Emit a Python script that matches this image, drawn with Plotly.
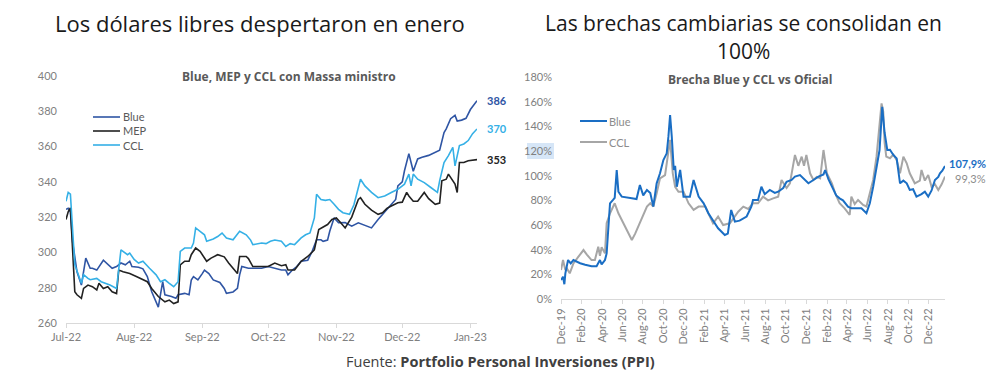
import plotly.graph_objects as go

# ---------------- Left chart data: Blue, MEP y CCL ----------------
blue_dates = ["2022-07-01","2022-07-02","2022-07-03","2022-07-04","2022-07-06","2022-07-08","2022-07-10","2022-07-12","2022-07-13","2022-07-15",
              "2022-07-18","2022-07-20","2022-07-22","2022-07-24","2022-07-26","2022-07-28","2022-07-30","2022-07-31","2022-08-03","2022-08-05",
              "2022-08-07","2022-08-09","2022-08-12","2022-08-14","2022-08-15","2022-08-18","2022-08-20","2022-08-21","2022-08-24","2022-08-26",
              "2022-08-27","2022-08-28","2022-08-30","2022-09-01","2022-09-02","2022-09-04","2022-09-06","2022-09-09","2022-09-11","2022-09-12",
              "2022-09-15","2022-09-17","2022-09-18","2022-09-19","2022-09-22","2022-09-25","2022-09-28","2022-10-01","2022-10-04","2022-10-07",
              "2022-10-09","2022-10-10","2022-10-12","2022-10-14","2022-10-16","2022-10-19","2022-10-21","2022-10-23","2022-10-25","2022-10-26",
              "2022-10-28","2022-10-29","2022-10-31","2022-11-02","2022-11-05","2022-11-08","2022-11-11","2022-11-14","2022-11-17","2022-11-20",
              "2022-11-22","2022-11-24","2022-11-26","2022-11-28","2022-11-29","2022-12-01","2022-12-02","2022-12-04","2022-12-05","2022-12-06",
              "2022-12-08","2022-12-10","2022-12-13","2022-12-16","2022-12-18","2022-12-20","2022-12-21","2022-12-23","2022-12-25","2022-12-26",
              "2022-12-28","2022-12-30","2023-01-01","2023-01-04"]
blue_vals = [324.4,325,323,306,289,281.5,296.8,291,291,290,
             295.6,293,291,292,294,293,295,292,291.6,290.7,
             286.3,277.7,269,283.4,276,275,274,276,276.8,276,
             284.4,286.3,284.4,288,290,288,284.4,283,279.6,276.8,
             277.6,279.6,287.3,292,291,291,291,292,291,290,
             290,287.3,290,292,295,295.6,300.6,307.2,307.2,306.3,
             307,312,319.6,316.8,317,314.9,316.8,315.5,313.9,318.7,
             321.6,324.4,327.3,330,337.7,340,346.3,356,351,346,
             353,354,355,356.8,358,368,370,375.8,377.7,374.5,
             375,376,381,386]

mep_dates = ["2022-07-01","2022-07-02","2022-07-03","2022-07-04","2022-07-05","2022-07-06","2022-07-08","2022-07-09","2022-07-11","2022-07-13",
             "2022-07-15","2022-07-16","2022-07-18","2022-07-20","2022-07-22","2022-07-24","2022-07-25","2022-07-27","2022-07-30","2022-08-02",
             "2022-08-05","2022-08-07","2022-08-09","2022-08-12","2022-08-15","2022-08-17","2022-08-19","2022-08-21","2022-08-22","2022-08-24",
             "2022-08-26","2022-08-27","2022-08-29","2022-08-31","2022-09-03","2022-09-05","2022-09-08","2022-09-11","2022-09-13","2022-09-15",
             "2022-09-17","2022-09-18","2022-09-21","2022-09-22","2022-09-24","2022-09-27","2022-10-01","2022-10-04","2022-10-07","2022-10-09",
             "2022-10-10","2022-10-13","2022-10-16","2022-10-19","2022-10-22","2022-10-24","2022-10-28","2022-10-30","2022-11-01","2022-11-03",
             "2022-11-05","2022-11-08","2022-11-11","2022-11-12","2022-11-14","2022-11-17","2022-11-20","2022-11-22","2022-11-24","2022-11-26",
             "2022-11-29","2022-12-01","2022-12-03","2022-12-04","2022-12-06","2022-12-08","2022-12-11","2022-12-13","2022-12-16","2022-12-18",
             "2022-12-19","2022-12-21","2022-12-22","2022-12-25","2022-12-26","2022-12-27","2022-12-29","2022-12-31","2023-01-04"]
mep_vals = [318.7,323,325.3,302.5,277.7,276,274,279.6,281.5,280.6,
            278.7,282.5,279.6,280.6,277.7,276.7,290,289,288,286.3,
            284.4,283.4,279.6,275,272,273,271,272,293,295,
            295,298.7,302.5,300.6,295,296.8,298.7,297.5,294,291,
            288,297.7,297.7,296.5,292,292,292,294,292.5,293,
            290,290,295,297.7,301.5,313,315.8,318.7,319.6,316.8,
            313.9,320,330,331,327.3,324,321.6,322.5,325,326.3,
            328.2,328.5,334,332,329,329,334,330.5,327.3,328,
            340.6,341.5,344.4,338.7,334,351,351,352,352.6]

ccl_dates = ["2022-07-01","2022-07-02","2022-07-03","2022-07-04","2022-07-05","2022-07-08","2022-07-09","2022-07-11","2022-07-12","2022-07-15",
             "2022-07-17","2022-07-21","2022-07-24","2022-07-26","2022-07-27","2022-07-29","2022-07-30","2022-08-01","2022-08-03","2022-08-05",
             "2022-08-08","2022-08-11","2022-08-13","2022-08-15","2022-08-17","2022-08-19","2022-08-21","2022-08-22","2022-08-24","2022-08-27",
             "2022-08-28","2022-08-29","2022-08-31","2022-09-02","2022-09-03","2022-09-06","2022-09-08","2022-09-10","2022-09-12","2022-09-15",
             "2022-09-18","2022-09-21","2022-09-23","2022-09-24","2022-09-28","2022-09-30","2022-10-02","2022-10-04","2022-10-07","2022-10-09",
             "2022-10-11","2022-10-13","2022-10-16","2022-10-18","2022-10-20","2022-10-22","2022-10-23","2022-10-25","2022-10-27","2022-10-29",
             "2022-10-31","2022-11-02","2022-11-04","2022-11-07","2022-11-09","2022-11-12","2022-11-14","2022-11-17","2022-11-20","2022-11-23",
             "2022-11-26","2022-11-29","2022-12-02","2022-12-04","2022-12-05","2022-12-06","2022-12-08","2022-12-11","2022-12-14","2022-12-17",
             "2022-12-18","2022-12-20","2022-12-22","2022-12-24","2022-12-25","2022-12-27","2022-12-29","2022-12-31","2023-01-02","2023-01-04"]
ccl_vals = [329,334,333,312,293,282.5,287.4,285.3,284.5,285.3,
            283.4,281.5,279.6,301.5,300.6,298.7,299.6,296,294,295,
            291,287.3,283.4,284.5,282.5,280.6,283.4,300.6,302.5,302.5,
            305.3,313.9,312,310,306.3,307.6,309,311,308.2,307.2,
            312,310,307,304.4,305.3,305,306.3,307,306.3,303.4,
            305,304.4,308.2,310,311,319.6,333,330,329.5,330,
            327.3,324.4,322.5,321.6,327,341.5,337.7,334,331,332,
            334,335.8,338.7,344.4,337.7,344.4,341.5,339.6,336.8,334,
            340.6,351,354.9,359.6,349.1,360.6,361.5,363.4,367.3,370]

# ---------------- Right chart data: Brecha Blue y CCL vs Oficial (%) ----------------
gap_blue_dates = ["2019-12-01","2019-12-07","2019-12-11","2019-12-14","2019-12-22","2019-12-30","2020-01-07","2020-01-27","2020-02-11","2020-03-01",
                  "2020-03-16","2020-03-26","2020-03-31","2020-04-10","2020-04-15","2020-04-20","2020-04-25","2020-05-04","2020-05-09","2020-05-15",
                  "2020-05-20","2020-05-30","2020-06-14","2020-06-29","2020-07-13","2020-07-23","2020-08-02","2020-08-13","2020-08-23","2020-09-01",
                  "2020-09-11","2020-09-21","2020-10-01","2020-10-11","2020-10-16","2020-10-21","2020-10-26","2020-11-01","2020-11-05","2020-11-10",
                  "2020-11-20","2020-11-30","2020-12-19","2020-12-30","2021-01-14","2021-01-29","2021-02-12","2021-02-26","2021-03-13","2021-04-02",
                  "2021-04-11","2021-04-21","2021-05-02","2021-05-16","2021-06-06","2021-06-20","2021-06-25","2021-07-10","2021-07-20","2021-07-30",
                  "2021-08-14","2021-08-29","2021-09-08","2021-09-23","2021-10-03","2021-10-18","2021-10-28","2021-11-12","2021-11-22","2021-12-07",
                  "2021-12-22","2022-01-06","2022-01-21","2022-01-26","2022-02-05","2022-02-19","2022-02-28","2022-03-10","2022-03-20","2022-04-04",
                  "2022-04-14","2022-04-29","2022-05-14","2022-05-29","2022-06-08","2022-06-18","2022-06-28","2022-07-07","2022-07-15","2022-07-22",
                  "2022-07-30","2022-08-07","2022-08-17","2022-08-27","2022-09-06","2022-09-16","2022-09-26","2022-10-05","2022-10-15","2022-10-25",
                  "2022-11-09","2022-11-19","2022-11-29","2022-12-09","2022-12-19","2022-12-29","2023-01-03","2023-01-10","2023-01-18"]
gap_blue_vals = [15.4,18,12,20.8,31.6,28.9,31.6,29,27.8,26.5,
                 26.5,31.6,28,31.6,37,61.3,77.6,80.3,82,104.6,
                 87,83,82,81.6,81,92.4,84,88.4,86,74.9,
                 93.8,101.9,112.7,118.1,131.6,149.2,131.6,104.6,108,91,
                 104.6,83,83,96.5,83,77.6,69.5,64,57.3,51.9,
                 53,72.2,62.7,63.5,66.9,74.9,80.3,80.3,91,85,
                 88.4,86,87,90,95.1,96.5,99.2,100.5,98,93.8,
                 96.5,99.2,101,104.6,97,88.4,84,81.6,80,74.9,
                 73.5,73.5,73.5,69.5,77.6,91,107.3,120.8,155.9,135,
                 120.8,121,116.8,114,93.8,96,93.8,88.4,89,83,
                 85,87,83,88,96.5,99,101.9,104,107.9]

gap_ccl_dates = ["2019-12-01","2019-12-07","2019-12-14","2019-12-18","2019-12-27","2020-01-07","2020-01-22","2020-02-06","2020-02-16","2020-03-01",
                 "2020-03-11","2020-03-21","2020-03-26","2020-03-31","2020-04-10","2020-04-15","2020-04-25","2020-05-04","2020-05-09","2020-05-20",
                 "2020-05-30","2020-06-14","2020-06-29","2020-07-09","2020-07-23","2020-08-02","2020-08-13","2020-08-23","2020-09-01","2020-09-11",
                 "2020-09-21","2020-10-06","2020-10-16","2020-10-21","2020-10-29","2020-11-05","2020-11-15","2020-11-30","2020-12-15","2020-12-30",
                 "2021-01-14","2021-02-03","2021-02-12","2021-02-26","2021-03-13","2021-03-28","2021-04-17","2021-04-27","2021-05-12","2021-05-27",
                 "2021-06-11","2021-06-25","2021-07-10","2021-07-25","2021-08-09","2021-08-24","2021-09-08","2021-09-18","2021-10-03","2021-10-13",
                 "2021-10-23","2021-10-28","2021-11-07","2021-11-17","2021-11-24","2021-12-01","2021-12-12","2021-12-22","2022-01-01","2022-01-11",
                 "2022-01-21","2022-01-31","2022-02-15","2022-02-25","2022-03-10","2022-03-25","2022-04-09","2022-04-14","2022-04-24","2022-05-04",
                 "2022-05-19","2022-05-29","2022-06-08","2022-06-18","2022-06-28","2022-07-06","2022-07-13","2022-07-18","2022-07-22","2022-07-27",
                 "2022-08-07","2022-08-17","2022-08-27","2022-09-06","2022-09-16","2022-09-26","2022-10-05","2022-10-20","2022-11-04","2022-11-09",
                 "2022-11-19","2022-11-29","2022-12-09","2022-12-19","2022-12-29","2023-01-08","2023-01-18"]
gap_ccl_vals = [23.5,31.6,23.5,25,20.8,28.9,34.3,39.7,36,31.6,
                31.6,42.4,35,42,37,61.4,69.5,74.9,77.6,69.5,
                64.1,56,47.8,53,61.4,67,74.9,77.6,74.9,85.7,
                97.8,100.5,120.8,129,101.9,91,87,87,77.6,72.2,
                74.9,74.9,69.5,61.4,66.8,60,61.4,65.4,70.8,74.9,
                73,77.6,77.6,83,80,81.6,83,96.5,90,93.8,
                107.3,116.8,108,115.4,108,116.8,101.9,96.5,99,97.8,
                120.8,102,93.8,85.7,77.6,73.5,68.1,83,77,80.3,
                76.2,75,85.7,96.5,115.4,137,158.6,152,127,115.4,
                114.1,117,112.7,101.9,115.4,110,101.9,93.8,96,104.6,
                96,100.5,91,93,88.4,93,99.3]

FONT = "Lato"
TFONT = "Open Sans"
C_BLUE_L = "#2f55a4"
C_MEP = "#222222"
C_CCL_L = "#35b0e6"
C_BLUE_R = "#1a6ec4"
C_CCL_R = "#a6a6a6"
TICK_C = "#808080"

fig = go.Figure()
fig.add_trace(go.Scatter(x=blue_dates, y=blue_vals, name="Blue", mode="lines",
                         line=dict(color=C_BLUE_L, width=1.6), xaxis="x", yaxis="y"))
fig.add_trace(go.Scatter(x=mep_dates, y=mep_vals, name="MEP", mode="lines",
                         line=dict(color=C_MEP, width=1.6), xaxis="x", yaxis="y"))
fig.add_trace(go.Scatter(x=ccl_dates, y=ccl_vals, name="CCL", mode="lines",
                         line=dict(color=C_CCL_L, width=1.6), xaxis="x", yaxis="y"))
fig.add_trace(go.Scatter(x=gap_ccl_dates, y=gap_ccl_vals, name="CCL", mode="lines",
                         line=dict(color=C_CCL_R, width=2), xaxis="x2", yaxis="y2"))
fig.add_trace(go.Scatter(x=gap_blue_dates, y=gap_blue_vals, name="Blue", mode="lines",
                         line=dict(color=C_BLUE_R, width=2), xaxis="x2", yaxis="y2"))

# the page body adds an 8px offset; the figure is laid out in window pixels minus that offset
OFF = 8
W, H = 1000 - OFF, 377 - OFF
def px(x): return (x - OFF) / W
def py(y): return 1 - (y - OFF) / H

axis_common = dict(showgrid=False, zeroline=False, automargin=False,
                   tickfont=dict(family=FONT, size=11, color=TICK_C))
fig.update_layout(
    width=W, height=H, margin=dict(l=0, r=0, t=0, b=0, pad=0, autoexpand=False),
    paper_bgcolor="white", plot_bgcolor="white", showlegend=False,
    font=dict(family=FONT),
    xaxis=dict(domain=[px(66), px(477)], range=["2022-07-01", "2023-01-04"], type="date",
               tickformat="%b-%y", dtick="M1", tick0="2022-07-01",
               showline=True, linecolor="#d9d9d9", linewidth=1,
               ticks="outside", ticklen=4, tickcolor="#d9d9d9", anchor="y", **axis_common),
    yaxis=dict(domain=[py(323), py(76)], range=[260, 400], dtick=20,
               showline=False, ticks="", ticklabelstandoff=8, anchor="x", **axis_common),
    xaxis2=dict(domain=[px(561), px(945)], range=["2019-12-01", "2023-01-18"], type="date",
                tickformat="%b-%y", dtick="M2", tick0="2019-12-01", tickangle=-90,
                showline=True, linecolor="#d9d9d9", linewidth=1,
                ticks="outside", ticklen=4, tickcolor="#d9d9d9", anchor="y2", **axis_common),
    yaxis2=dict(domain=[py(299), py(77)], range=[0, 180], dtick=20, ticksuffix="%",
                showline=False, ticks="", ticklabelstandoff=8, anchor="x2", **axis_common),
)

# highlight behind the 120% label (as in the reference)
fig.add_shape(type="rect", xref="paper", yref="paper", x0=px(527), x1=px(554), y0=py(159), y1=py(143),
              fillcolor="#d6e6f7", line=dict(width=0), layer="below")

ann = []
ann.append(dict(text="Los dólares libres despertaron en enero", x=px(260), y=py(23), xref="paper", yref="paper",
                showarrow=False, font=dict(family=TFONT, size=22, color="#1a1a1a"), xanchor="center", yanchor="middle"))
RT_FONT = dict(family=TFONT, size=21, color="#1a1a1a")
ann.append(dict(text="Las brechas cambiarias se consolidan en", x=px(743), y=py(22.5), xref="paper", yref="paper",
                showarrow=False, font=RT_FONT, xanchor="center", yanchor="middle"))
ann.append(dict(text="100%", x=px(743), y=py(51), xref="paper", yref="paper",
                showarrow=False, font=RT_FONT, xanchor="center", yanchor="middle"))
ann.append(dict(text="<b>Blue, MEP y CCL con Massa ministro</b>", x=px(289), y=py(76), xref="paper", yref="paper",
                showarrow=False, font=dict(family=TFONT, size=12, color="#595959"), xanchor="center", yanchor="middle"))
ann.append(dict(text="<b>Brecha Blue y CCL vs Oficial</b>", x=px(750), y=py(80), xref="paper", yref="paper",
                showarrow=False, font=dict(family=TFONT, size=12, color="#595959"), xanchor="center", yanchor="middle"))
ann.append(dict(text="Fuente: <b>Portfolio Personal Inversiones (PPI)</b>", x=px(500), y=py(361), xref="paper", yref="paper",
                showarrow=False, font=dict(family=TFONT, size=14.5, color="#404040"), xanchor="center", yanchor="middle"))

# end-of-line value labels
ann.append(dict(text="<b>%d</b>" % round(blue_vals[-1]), x=blue_dates[-1], y=blue_vals[-1], xref="x", yref="y",
                showarrow=False, xanchor="left", xshift=8, font=dict(family=FONT, size=11, color=C_BLUE_L)))
ann.append(dict(text="<b>%d</b>" % round(ccl_vals[-1]), x=ccl_dates[-1], y=ccl_vals[-1], xref="x", yref="y",
                showarrow=False, xanchor="left", xshift=8, font=dict(family=FONT, size=11, color=C_CCL_L)))
ann.append(dict(text="<b>%d</b>" % round(mep_vals[-1]), x=mep_dates[-1], y=mep_vals[-1], xref="x", yref="y",
                showarrow=False, xanchor="left", xshift=8, font=dict(family=FONT, size=11, color=C_MEP)))
ann.append(dict(text="<b>" + ("%.1f%%" % gap_blue_vals[-1]).replace(".", ",") + "</b>", x=gap_blue_dates[-1], y=gap_blue_vals[-1],
                xref="x2", yref="y2", showarrow=False, xanchor="left", xshift=2, yshift=2,
                font=dict(family=FONT, size=11, color=C_BLUE_R)))
ann.append(dict(text=("%.1f%%" % gap_ccl_vals[-1]).replace(".", ","), x=gap_ccl_dates[-1], y=gap_ccl_vals[-1],
                xref="x2", yref="y2", showarrow=False, xanchor="left", xshift=8, yshift=-2,
                font=dict(family=FONT, size=11, color="#8c8c8c")))

# legends (line sample + label)
legend_left = [("Blue", C_BLUE_L, 117), ("MEP", C_MEP, 131), ("CCL", C_CCL_L, 145)]
for name, col, yy in legend_left:
    fig.add_shape(type="line", xref="paper", yref="paper", x0=px(93), x1=px(120), y0=py(yy), y1=py(yy),
                  line=dict(color=col, width=1.6))
    ann.append(dict(text=name, x=px(121), y=py(yy), xref="paper", yref="paper", showarrow=False,
                    xanchor="left", yanchor="middle", font=dict(family=FONT, size=11, color="#595959")))
legend_right = [("Blue", C_BLUE_R, 121), ("CCL", C_CCL_R, 142)]
for name, col, yy in legend_right:
    fig.add_shape(type="line", xref="paper", yref="paper", x0=px(580), x1=px(607), y0=py(yy), y1=py(yy),
                  line=dict(color=col, width=2))
    ann.append(dict(text=name, x=px(607), y=py(yy), xref="paper", yref="paper", showarrow=False,
                    xanchor="left", yanchor="middle", font=dict(family=FONT, size=11, color="#8c8c8c")))

fig.update_layout(annotations=ann)
fig.write_html("out.html")
